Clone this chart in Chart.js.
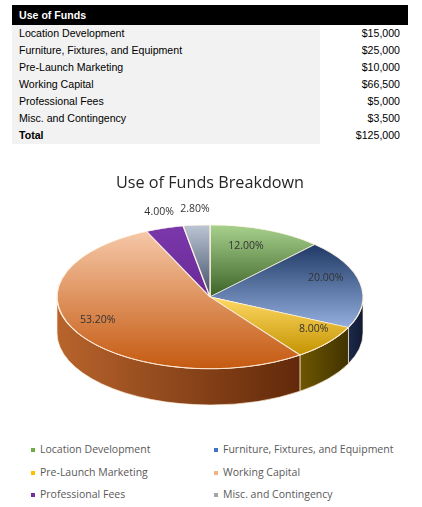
<!DOCTYPE html>
<html>
<head>
<meta charset="utf-8">
<title>Use of Funds</title>
<script src="https://cdn.jsdelivr.net/npm/chart.js@4.4.1/dist/chart.umd.min.js"></script>
<style>
    html, body { margin: 0; padding: 0; background: #fff; }
    body { width: 422px; height: 507px; position: relative; overflow: hidden; font-family: 'Liberation Sans', Arial, sans-serif; }
    #funds { position: absolute; left: 12px; top: 5px; width: 396px; border-collapse: collapse; font-size: 10.6px; color: #000; }
    #funds th { background: #000; color: #fff; text-align: left; padding: 0 7px; height: 19.5px; font-weight: bold; }
    #funds td { height: 17px; padding: 0 7px; }
    #funds td.name { background: #f2f2f2; width: 294px; }
    #funds td.amt { text-align: right; padding-right: 8px; }
    #funds tr.total td.name { font-weight: bold; }
    #chart-box { position: absolute; left: 0; top: 150px; width: 422px; height: 285px; }
    #legend { position: absolute; left: 0; top: 441px; width: 422px; font-family: 'Open Sans', sans-serif; font-size: 10.5px; color: #595959; }
    .item { position: absolute; white-space: nowrap; line-height: 16px; }
    .item i { display: inline-block; width: 4px; height: 4px; margin-right: 5px; vertical-align: middle; }
</style>
</head>
<body>
<table id="funds"></table>
<div id="chart-box"><canvas id="funds-chart"></canvas></div>
<div id="legend"></div>

<script>
// ---- data ----
const tableTitle = 'Use of Funds';
const categories = [
    'Location Development',
    'Furniture, Fixtures, and Equipment',
    'Pre-Launch Marketing',
    'Working Capital',
    'Professional Fees',
    'Misc. and Contingency'
];
const amounts = [15000, 25000, 10000, 66500, 5000, 3500];

// ---- palette / label placement ----
const sliceTop    = ['#a9d18e', '#1f3864', '#ffd966', '#f6c8a8', '#7a38ab', '#bcc6d4'];
const sliceBottom = ['#3a6326', '#93afdf', '#c49300', '#c55a11', '#6a2996', '#3f4d66'];
const sideLeft    = ['#3a6326', '#1c2a4c', '#6e5600', '#b8642c', '#5c2386', '#4a5870'];
const sideRight   = ['#253f18', '#101a32', '#413300', '#62290a', '#3c145a', '#2c3546'];
const legendColors = ['#70ad47', '#4472c4', '#ffc000', '#f4b183', '#7030a0', '#a5a5a5'];
const labelRadius = [0.64, 0.77, 0.88, 0.85, 1.12, 1.12];

const TILT = 0.47;
const total = amounts.reduce((a, b) => a + b, 0);
const money = (v) => '$' + v.toLocaleString('en-US');

// table
(function buildTable() {
    const rows = [`<tr><th colspan="2">${tableTitle}</th></tr>`];
    categories.forEach((name, i) => {
        rows.push(`<tr><td class="name">${name}</td><td class="amt">${money(amounts[i])}</td></tr>`);
    });
    rows.push(`<tr class="total"><td class="name">Total</td><td class="amt">${money(total)}</td></tr>`);
    document.getElementById('funds').innerHTML = rows.join('');
})();

// angular extent of slice i (same convention as the doughnut controller)
function sliceAngles(i) {
    const before = amounts.slice(0, i).reduce((a, b) => a + b, 0);
    const s = -Math.PI / 2 + 2 * Math.PI * before / total;
    return [s, s + 2 * Math.PI * amounts[i] / total];
}

function sliceFill(c) {
    const chart = c.chart;
    const area = chart.chartArea;
    const i = c.dataIndex;
    if (!area) return sliceTop[i];
    const cx = (area.left + area.right) / 2;
    const cy = (area.top + area.bottom) / 2;
    const r = Math.min(area.width, area.height) / 2;
    const [s, e] = sliceAngles(i);
    let lo = 0, hi = 0;
    for (let k = 0; k <= 40; k++) {
        const v = Math.sin(s + (e - s) * k / 40);
        lo = Math.min(lo, v);
        hi = Math.max(hi, v);
    }
    const g = chart.ctx.createLinearGradient(0, cy + r * lo, 0, cy + r * hi);
    g.addColorStop(0, sliceTop[i]);
    g.addColorStop(1, sliceBottom[i]);
    return g;
}

function geometry(chart) {
    const area = chart.chartArea;
    const el = chart.getDatasetMeta(0).data[0];
    const rx = area.width / 2;
    const ry = rx * TILT;
    return {
        cx: el.x, cy: el.y, r: el.outerRadius,
        X: el.x, Y: area.top + ry, rx, ry,
        depth: area.height - 2 * ry
    };
}

// flattens the pie into an ellipse and adds the rim below it
const tiltPlugin = {
    id: 'tilt',
    beforeDatasetsDraw(chart) {
        const g = geometry(chart);
        const ctx = chart.ctx;
        chart.getDatasetMeta(0).data.forEach((el, i) => {
            const a1 = Math.max(el.startAngle, 0);
            const a2 = Math.min(el.endAngle, Math.PI);
            if (a1 >= a2) return;
            const xl = g.X + g.rx * Math.cos(a2);
            const xr = g.X + g.rx * Math.cos(a1);
            const grad = ctx.createLinearGradient(xl, 0, xr, 0);
            grad.addColorStop(0, sideLeft[i]);
            grad.addColorStop(1, sideRight[i]);
            ctx.save();
            ctx.beginPath();
            ctx.ellipse(g.X, g.Y, g.rx, g.ry, 0, a1, a2);
            ctx.ellipse(g.X, g.Y + g.depth, g.rx, g.ry, 0, a2, a1, true);
            ctx.closePath();
            ctx.fillStyle = grad;
            ctx.fill();
            ctx.lineWidth = 0.8;
            ctx.strokeStyle = 'rgba(255,240,220,0.85)';
            ctx.stroke();
            ctx.restore();
        });
        ctx.save();
        ctx.translate(g.X, g.Y);
        ctx.scale(g.rx / g.r, g.ry / g.r);
        ctx.translate(-g.cx, -g.cy);
    },
    afterDatasetsDraw(chart) {
        const ctx = chart.ctx;
        ctx.restore();
        const g = geometry(chart);
        // light rim on the front edge of the top face
        ctx.save();
        ctx.beginPath();
        ctx.ellipse(g.X, g.Y, g.rx, g.ry, 0, 0.15, Math.PI - 0.05);
        ctx.lineWidth = 1;
        ctx.strokeStyle = 'rgba(255,235,215,0.8)';
        ctx.stroke();
        ctx.restore();

        // data labels, centred a little above the ellipse centre (perspective apex)
        const labelY = g.Y - 8;
        ctx.save();
        ctx.font = '10.5px "Open Sans", sans-serif';
        ctx.fillStyle = '#333333';
        ctx.textAlign = 'center';
        ctx.textBaseline = 'middle';
        chart.getDatasetMeta(0).data.forEach((el, i) => {
            const share = amounts[i] / total;
            const mid = (el.startAngle + el.endAngle) / 2;
            const f = labelRadius[i];
            const x = g.X + g.rx * f * Math.cos(mid);
            const y = labelY + g.ry * f * Math.sin(mid);
            ctx.fillText((share * 100).toFixed(2) + '%', x, y);
        });
        ctx.restore();
    }
};

new Chart(document.getElementById('funds-chart'), {
    type: 'pie',
    data: {
        labels: categories,
        datasets: [{
            data: amounts,
            backgroundColor: sliceFill,
            borderColor: 'rgba(255,245,230,0.9)',
            borderWidth: 0.8,
            clip: false
        }]
    },
    options: {
        responsive: true,
        maintainAspectRatio: false,
        animation: false,
        events: [],
        layout: { padding: { left: 57, right: 59, top: 0, bottom: 30 } },
        plugins: {
            legend: { display: false },
            tooltip: { enabled: false },
            title: {
                display: true,
                text: 'Use of Funds Breakdown',
                color: '#262626',
                font: { family: 'Open Sans', size: 16.2, weight: 'normal', lineHeight: 1.2 },
                padding: { top: 23.5, bottom: 32 }
            }
        }
    },
    plugins: [tiltPlugin]
});

// legend, two columns
(function buildLegend() {
    const box = document.getElementById('legend');
    categories.forEach((name, i) => {
        const item = document.createElement('div');
        item.className = 'item';
        item.style.left = (i % 2 ? 214 : 31) + 'px';
        item.style.top = (Math.floor(i / 2) * 22.5) + 'px';
        item.innerHTML = `<i style="background:${legendColors[i]}"></i>${name}`;
        box.appendChild(item);
    });
})();
</script>
</body>
</html>
